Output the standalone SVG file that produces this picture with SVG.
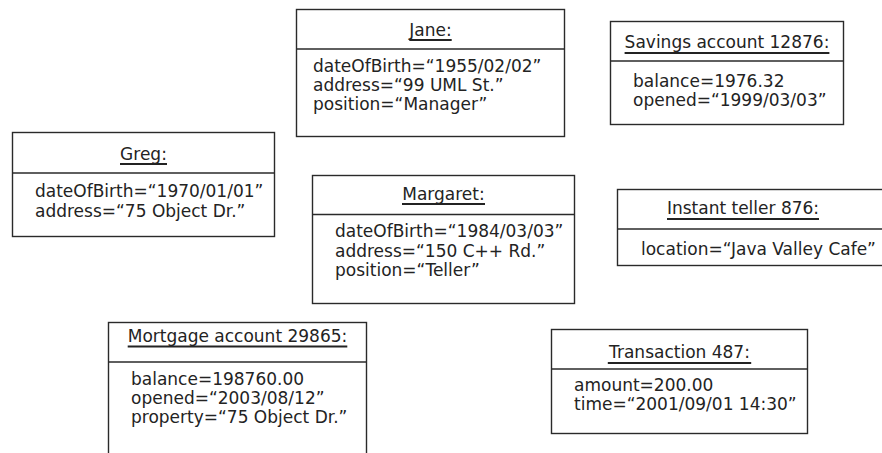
<svg xmlns="http://www.w3.org/2000/svg" width="882" height="453" viewBox="0 0 882 453">
<style>
  .box { fill: #ffffff; stroke: #2a2a2a; stroke-width: 1.4; }
  .div { stroke: #2a2a2a; stroke-width: 1.4; }
  .ul { stroke: #232323; stroke-width: 2.2; }
  text { font-family: "DejaVu Sans", "Liberation Sans", sans-serif; font-size: 17px; fill: #232323; }
  .title { text-anchor: middle; }
</style>
<rect width="882" height="453" fill="#ffffff"/>
<g id="connectors"></g>

<g id="jane">
  <rect class="box" x="296.5" y="9.5" width="268" height="127"/>
  <line class="div" x1="296.5" y1="49" x2="564.5" y2="49"/>
  <text class="title" x="430.5" y="36">Jane:</text>
  <line class="ul" x1="409.3" y1="40" x2="451.7" y2="40"/>
  <text x="313" y="71.5">dateOfBirth=“1955/02/02”</text>
  <text x="313" y="90.5">address=“99 UML St.”</text>
  <text x="313" y="109.5">position=“Manager”</text>
</g>

<g id="savings">
  <rect class="box" x="610.5" y="21.5" width="233" height="103"/>
  <line class="div" x1="610.5" y1="61" x2="843.5" y2="61"/>
  <text class="title" x="727" y="48">Savings account 12876:</text>
  <line class="ul" x1="624.6" y1="53" x2="829.4" y2="53"/>
  <text x="633" y="87">balance=1976.32</text>
  <text x="633" y="106">opened=“1999/03/03”</text>
</g>

<g id="greg">
  <rect class="box" x="12.5" y="132.5" width="262" height="104"/>
  <line class="div" x1="12.5" y1="173" x2="274.5" y2="173"/>
  <text class="title" x="143.5" y="160">Greg:</text>
  <line class="ul" x1="120" y1="164" x2="167" y2="164"/>
  <text x="35" y="196.5">dateOfBirth=“1970/01/01”</text>
  <text x="35" y="217">address=“75 Object Dr.”</text>
</g>

<g id="margaret">
  <rect class="box" x="312.5" y="175.5" width="262" height="128"/>
  <line class="div" x1="312.5" y1="214.5" x2="574.5" y2="214.5"/>
  <text class="title" x="443.5" y="199.5">Margaret:</text>
  <line class="ul" x1="402" y1="204" x2="485" y2="204"/>
  <text x="335" y="236.5">dateOfBirth=“1984/03/03”</text>
  <text x="335" y="256.5">address=“150 C++ Rd.”</text>
  <text x="335" y="276">position=“Teller”</text>
</g>

<g id="instant-teller">
  <rect class="box" x="617.5" y="189.5" width="280" height="76"/>
  <line class="div" x1="617.5" y1="229" x2="897" y2="229"/>
  <text class="title" x="743" y="214">Instant teller 876:</text>
  <line class="ul" x1="667" y1="219" x2="819" y2="219"/>
  <text x="641" y="255">location=“Java Valley Cafe”</text>
</g>

<g id="mortgage">
  <rect class="box" x="108.5" y="322.5" width="258" height="150"/>
  <line class="div" x1="108.5" y1="362" x2="366.5" y2="362"/>
  <text class="title" x="237.5" y="342">Mortgage account 29865:</text>
  <line class="ul" x1="127.7" y1="346.5" x2="347.3" y2="346.5"/>
  <text x="131" y="385">balance=198760.00</text>
  <text x="131" y="404">opened=“2003/08/12”</text>
  <text x="131" y="423">property=“75 Object Dr.”</text>
</g>

<g id="transaction">
  <rect class="box" x="551.5" y="329.5" width="256" height="104"/>
  <line class="div" x1="551.5" y1="369" x2="807.5" y2="369"/>
  <text class="title" x="679.5" y="358">Transaction 487:</text>
  <line class="ul" x1="607.8" y1="363" x2="751.2" y2="363"/>
  <text x="574" y="390.5">amount=200.00</text>
  <text x="574" y="410">time=“2001/09/01 14:30”</text>
</g>
</svg>
